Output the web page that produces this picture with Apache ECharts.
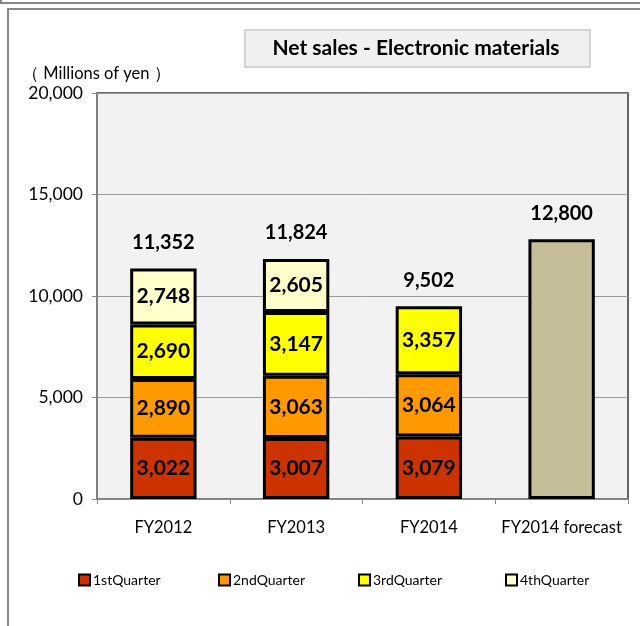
<!DOCTYPE html>
<html><head><meta charset="utf-8">
<script src="https://cdn.jsdelivr.net/npm/echarts@6/dist/echarts.min.js"></script>
<style>html,body{margin:0;padding:0;background:#fff}#c{width:640px;height:626px}</style>
</head><body><div id="c"></div>
<script>
const categories = ['FY2012', 'FY2013', 'FY2014', 'FY2014 forecast'];
const q1 = [3022, 3007, 3079, null];
const q2 = [2890, 3063, 3064, null];
const q3 = [2690, 3147, 3357, null];
const q4 = [2748, 2605, null, null];
const forecast = [null, null, null, 12800];
const totals = [11352, 11824, 9502, 12800];
const seriesNames = ['1stQuarter', '2ndQuarter', '3rdQuarter', '4thQuarter'];
const yTicks = [0, 5000, 10000, 15000, 20000];

const FONT = 'Lato, "Open Sans", sans-serif';
const colors = ['#cc3300', '#ff9900', '#ffff00', '#ffffcc'];
const fmt = v => v.toLocaleString('en-US');

const segLabel = {
  show: true, position: 'inside', color: '#000', fontWeight: 'bold',
  fontSize: 21, fontFamily: FONT,
  formatter: p => fmt(p.value)
};
const mk = (name, data, i) => ({
  name, type: 'bar', stack: 's', data, barWidth: '50%',
  itemStyle: { color: colors[i], borderColor: '#000', borderWidth: 3 },
  label: segLabel
});

const chart = echarts.init(document.getElementById('c'));
chart.setOption({
  animation: false,
  textStyle: { fontFamily: FONT },
  graphic: [
    { type: 'rect', shape: { x: 1, y: -10, width: 660, height: 13 }, style: { fill: 'none', stroke: '#888', lineWidth: 2 } },
    { type: 'rect', shape: { x: 8, y: 9, width: 660, height: 660 }, style: { fill: 'none', stroke: '#888', lineWidth: 2 } },
    { type: 'rect', shape: { x: 245, y: 30, width: 345, height: 37 }, style: { fill: '#f0f0f0', stroke: '#c8c8c8', lineWidth: 1.5 } },
    { type: 'text', x: 416, y: 48, style: { text: 'Net sales - Electronic materials', font: 'bold 21px ' + FONT, fill: '#000', align: 'center', verticalAlign: 'middle' } },
    { type: 'text', x: 22, y: 74, style: { text: '（ Millions of yen ）', font: '16.5px ' + FONT, fill: '#000', align: 'left', verticalAlign: 'middle' } }
  ],
  legend: seriesNames.map((n, i) => ({
    data: [n], left: [73, 213, 353, 500][i], top: 568,
    itemWidth: 11, itemHeight: 11, icon: 'rect', itemGap: 4,
    textStyle: { fontSize: 14, color: '#000', fontFamily: FONT, padding: [0, 0, 0, -2] }
  })),
  grid: { left: 97, right: 12, top: 93, bottom: 127, show: true, backgroundColor: '#f2f2f2', borderColor: '#333', borderWidth: 1.5 },
  xAxis: {
    type: 'category', data: categories,
    axisLine: { lineStyle: { color: '#888', width: 1.5 } },
    axisTick: { show: true, length: 5, lineStyle: { color: '#888' } },
    axisLabel: { color: '#000', fontSize: 16.5, margin: 20, interval: 0, fontFamily: FONT }
  },
  yAxis: {
    type: 'value', min: yTicks[0], max: yTicks[yTicks.length - 1], interval: 5000,
    axisLine: { show: true, lineStyle: { color: '#888', width: 1.5 } },
    axisTick: { show: true, length: 5, inside: false, lineStyle: { color: '#888' } },
    axisLabel: { color: '#000', fontSize: 17.5, margin: 14, fontFamily: FONT, formatter: v => fmt(v) },
    splitLine: { lineStyle: { color: '#999', width: 1 } }
  },
  series: [
    mk(seriesNames[0], q1, 0),
    mk(seriesNames[1], q2, 1),
    mk(seriesNames[2], q3, 2),
    mk(seriesNames[3], q4, 3),
    { name: 'forecast', type: 'bar', stack: 's', data: forecast, barWidth: '50%',
      itemStyle: { color: '#c4bd97', borderColor: '#000', borderWidth: 3 } },
    { name: 'total', type: 'bar', stack: 's', data: totals.map(() => 0), barWidth: '50%',
      itemStyle: { color: 'transparent' },
      label: { show: true, position: 'top', distance: 16, color: '#000', fontWeight: 'bold', fontSize: 20, fontFamily: FONT,
        formatter: p => fmt(totals[p.dataIndex]) } }
  ]
});
</script></body></html>
